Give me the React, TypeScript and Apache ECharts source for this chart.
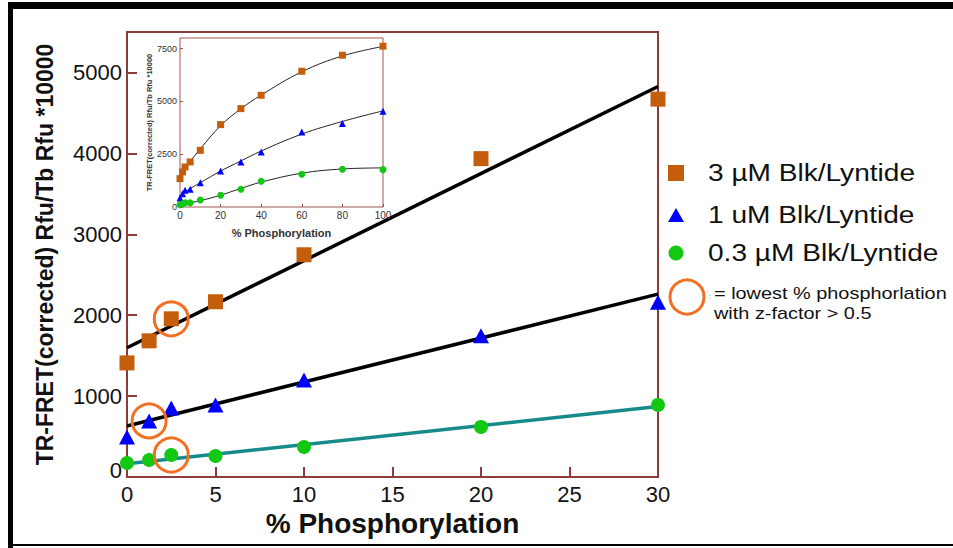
import React, { useEffect, useRef } from "react";
import * as echarts from "echarts";

const xMain = [0, 1.25, 2.5, 5, 10, 20, 30];
const sq3uM = [1410, 1683, 1955, 2166, 2747, 3935, 4670];
const tri1uM = [495, 693, 854, 891, 1200, 1745, 2160];
const circ03uM = [173, 210, 272, 260, 371, 619, 891];

const fitX = [0, 30];
const fitSq = [1597, 4827];
const fitTri = [631, 2260];
const fitCirc = [165, 870];

const zHitX = [2.5, 1.25, 2.5];
const zHitY = [1955, 693, 272];

const xInset = [0, 1.25, 2.5, 5, 10, 20, 30, 40, 60, 80, 100];
const insSq = [1342, 1658, 1895, 2132, 2684, 3900, 4658, 5290, 6426, 7184, 7611];
const insTri = [426, 632, 790, 837, 1153, 1705, 2132, 2605, 3553, 3948, 4532];
const insCirc = [110, 158, 205, 205, 332, 553, 837, 1216, 1547, 1784, 1768];

const insFitX = [0, 5, 10, 20, 30, 40, 60, 80, 100];
const insFitSq = [1450, 2150, 2750, 3850, 4650, 5300, 6400, 7150, 7600];
const insFitTri = [520, 870, 1150, 1700, 2180, 2650, 3450, 4050, 4550];
const insFitCirc = [130, 200, 300, 560, 880, 1180, 1600, 1800, 1850];

const legendNames = ["3 µM Blk/Lyntide", "1 uM Blk/Lyntide", "0.3 µM Blk/Lyntide"];

const FONT = "Liberation Sans, Arial, sans-serif";
const FRAME = "#8E3B3B";
const C_SQ = "#C45E0C";
const C_TRI = "#0000FF";
const C_CIRC = "#12C812";
const C_TEAL = "#178A8A";
const C_RING = "#F36F21";
const SX = 1.17;

const zip = (xs: number[], ys: number[]) => xs.map((x, i) => [x, ys[i]]);

export default function App() {
  const ref = useRef<HTMLDivElement>(null);
  useEffect(() => {
    document.body.style.margin = "0";
    const chart = echarts.init(ref.current!, null, { renderer: "svg" });
    const option: any = {
      animation: false,
      backgroundColor: "#fff",
      textStyle: { fontFamily: FONT },
      grid: [
        { left: 127, top: 32, width: 531, height: 445, show: true, borderColor: FRAME, borderWidth: 2, backgroundColor: "transparent" },
        { left: 180, top: 38, width: 203, height: 169, show: true, borderColor: "#A25555", borderWidth: 1, backgroundColor: "#fff", z: 5 },
      ],
      xAxis: [
        {
          gridIndex: 0, type: "value", min: 0, max: 30, interval: 5,
          axisLine: { show: false }, splitLine: { show: false },
          axisTick: { inside: true, length: 10, lineStyle: { color: FRAME, width: 2 } },
          axisLabel: { fontSize: 22, color: "#111", margin: 6, fontFamily: FONT, formatter: (v: number) => String(v) },
          name: "% Phosphorylation", nameLocation: "middle", nameGap: 30,
          nameTextStyle: { fontSize: 28, fontWeight: "bold", color: "#111", fontFamily: FONT },
        },
        {
          gridIndex: 1, type: "value", min: 0, max: 100, interval: 20, z: 6,
          axisLine: { show: false }, splitLine: { show: false },
          axisTick: { inside: true, length: 3, lineStyle: { color: "#A25555", width: 1 } },
          axisLabel: { fontSize: 10, color: "#333", margin: 3, fontFamily: FONT, formatter: (v: number) => String(v) },
          name: "% Phosphorylation", nameLocation: "middle", nameGap: 20,
          nameTextStyle: { fontSize: 11, fontWeight: "bold", color: "#333", fontFamily: FONT },
        },
      ],
      yAxis: [
        {
          gridIndex: 0, type: "value", min: 0, max: 5500, interval: 1000,
          axisLine: { show: false }, splitLine: { show: false },
          axisTick: { inside: true, length: 10, lineStyle: { color: FRAME, width: 2 } },
          axisLabel: {
            fontSize: 22, color: "#111", margin: 5, showMaxLabel: false, fontFamily: FONT,
            formatter: (v: number) => (v === 0 ? "{z|0}" : String(v)),
            rich: { z: { fontSize: 22, color: "#111", fontFamily: FONT, padding: [0, 0, 14, 0] } },
          },
          name: "TR-FRET(corrected) Rfu/Tb Rfu *10000", nameLocation: "middle", nameGap: 71,
          nameTextStyle: { fontSize: 23, fontWeight: "bold", color: "#111", fontFamily: FONT },
        },
        {
          gridIndex: 1, type: "value", min: 0, max: 8000, interval: 2500, z: 6,
          axisLine: { show: false }, splitLine: { show: false },
          axisTick: { inside: true, length: 3, lineStyle: { color: "#A25555", width: 1 } },
          axisLabel: { fontSize: 9, color: "#333", margin: 3, showMaxLabel: false, fontFamily: FONT, formatter: (v: number) => String(v) },
          name: "TR-FRET(corrected) Rfu/Tb Rfu *10000", nameLocation: "middle", nameGap: 27,
          nameTextStyle: { fontSize: 7.5, fontWeight: "bold", color: "#333", fontFamily: FONT },
        },
      ],
      series: [
        { type: "line", xAxisIndex: 0, yAxisIndex: 0, data: zip(fitX, fitSq), symbol: "none", lineStyle: { color: "#000", width: 3.5 }, z: 2, silent: true },
        { type: "line", xAxisIndex: 0, yAxisIndex: 0, data: zip(fitX, fitTri), symbol: "none", lineStyle: { color: "#000", width: 3.5 }, z: 2, silent: true },
        { type: "line", xAxisIndex: 0, yAxisIndex: 0, data: zip(fitX, fitCirc), symbol: "none", lineStyle: { color: C_TEAL, width: 3.5 }, z: 2, silent: true },
        { name: legendNames[0], type: "scatter", xAxisIndex: 0, yAxisIndex: 0, data: zip(xMain, sq3uM), symbol: "rect", symbolSize: 15, itemStyle: { color: C_SQ, opacity: 1 }, z: 3 },
        { name: legendNames[1], type: "scatter", xAxisIndex: 0, yAxisIndex: 0, data: zip(xMain, tri1uM), symbol: "triangle", symbolSize: [16, 15], itemStyle: { color: C_TRI, opacity: 1 }, z: 3 },
        { name: legendNames[2], type: "scatter", xAxisIndex: 0, yAxisIndex: 0, data: zip(xMain, circ03uM), symbol: "circle", symbolSize: 14, itemStyle: { color: C_CIRC, opacity: 1 }, z: 3 },
        { type: "scatter", xAxisIndex: 0, yAxisIndex: 0, data: zip(zHitX, zHitY), symbol: "circle", symbolSize: 34, itemStyle: { color: "rgba(0,0,0,0)", borderColor: C_RING, borderWidth: 3, opacity: 1 }, z: 4, silent: true },

        { type: "line", xAxisIndex: 1, yAxisIndex: 1, data: zip(insFitX, insFitSq), symbol: "none", smooth: 0.4, lineStyle: { color: "#222", width: 1 }, z: 6, silent: true },
        { type: "line", xAxisIndex: 1, yAxisIndex: 1, data: zip(insFitX, insFitTri), symbol: "none", smooth: 0.4, lineStyle: { color: "#222", width: 1 }, z: 6, silent: true },
        { type: "line", xAxisIndex: 1, yAxisIndex: 1, data: zip(insFitX, insFitCirc), symbol: "none", smooth: 0.4, lineStyle: { color: "#222", width: 1 }, z: 6, silent: true },
        { type: "scatter", xAxisIndex: 1, yAxisIndex: 1, data: zip(xInset, insSq), symbol: "rect", symbolSize: 7, itemStyle: { color: C_SQ, opacity: 1 }, z: 7 },
        { type: "scatter", xAxisIndex: 1, yAxisIndex: 1, data: zip(xInset, insTri), symbol: "triangle", symbolSize: 7, itemStyle: { color: C_TRI, opacity: 1 }, z: 7 },
        { type: "scatter", xAxisIndex: 1, yAxisIndex: 1, data: zip(xInset, insCirc), symbol: "circle", symbolSize: 7, itemStyle: { color: C_CIRC, opacity: 1 }, z: 7 },
      ],
      graphic: [
        { type: "rect", shape: { x: 8, y: 2, width: 945, height: 7 }, style: { fill: "#000" }, z: 10 },
        { type: "rect", shape: { x: 8, y: 2, width: 5, height: 546 }, style: { fill: "#000" }, z: 10 },
        { type: "rect", shape: { x: 8, y: 544, width: 945, height: 2 }, style: { fill: "#000" }, z: 10 },

        { type: "rect", shape: { x: 668, y: 165, width: 16, height: 16 }, style: { fill: C_SQ }, z: 10 },
        { type: "polygon", shape: { points: [[676, 208], [684, 222], [668, 222]] }, style: { fill: C_TRI }, z: 10 },
        { type: "circle", shape: { cx: 676, cy: 253, r: 7.5 }, style: { fill: C_CIRC }, z: 10 },
        { type: "circle", shape: { cx: 687, cy: 297, r: 17 }, style: { fill: "none", stroke: C_RING, lineWidth: 3 }, z: 10 },

        { type: "text", x: 708, y: 173, scaleX: SX, style: { text: legendNames[0], font: `24px ${FONT}`, fill: "#111", verticalAlign: "middle" }, z: 10 },
        { type: "text", x: 708, y: 215, scaleX: SX, style: { text: legendNames[1], font: `24px ${FONT}`, fill: "#111", verticalAlign: "middle" }, z: 10 },
        { type: "text", x: 708, y: 253, scaleX: SX, style: { text: legendNames[2], font: `24px ${FONT}`, fill: "#111", verticalAlign: "middle" }, z: 10 },
        { type: "text", x: 709, y: 296, style: { text: ":", font: `7px ${FONT}`, fill: "#555", verticalAlign: "middle" }, z: 10 },
        { type: "text", x: 714, y: 293, scaleX: SX, style: { text: "= lowest % phosphorlation", font: `17px ${FONT}`, fill: "#111", verticalAlign: "middle" }, z: 10 },
        { type: "text", x: 714, y: 313, scaleX: SX, style: { text: "with z-factor > 0.5", font: `17px ${FONT}`, fill: "#111", verticalAlign: "middle" }, z: 10 },
      ],
    };
    chart.setOption(option);
    return () => chart.dispose();
  }, []);
  return <div ref={ref} style={{ width: 953, height: 548 }} />;
}
